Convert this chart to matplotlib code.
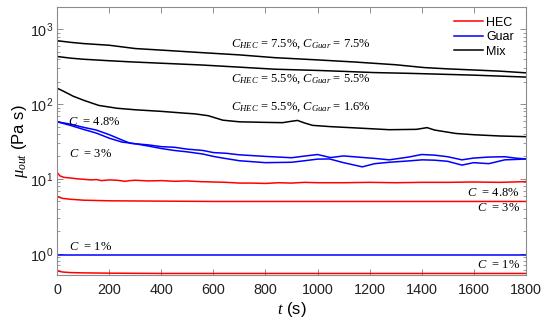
import math
import matplotlib
matplotlib.use("Agg")
import matplotlib.pyplot as plt
from matplotlib.ticker import LogLocator, FuncFormatter, NullFormatter

plt.rcParams['font.family'] = ['Liberation Sans', 'DejaVu Sans']
plt.rcParams['mathtext.fontset'] = 'custom'
plt.rcParams['mathtext.rm'] = 'Liberation Serif'
plt.rcParams['mathtext.it'] = 'Liberation Serif:italic'
plt.rcParams['mathtext.bf'] = 'Liberation Serif:bold'

# ---------------- data ----------------
t_mix75 = [0, 50, 100, 200, 300, 400, 550, 700, 835, 1000, 1140, 1300, 1410, 1500, 1600, 1700, 1800]
mix75 = [704, 670, 645, 612, 553, 527, 489, 455, 418, 390, 366, 336, 308, 296, 286, 276, 262]

t_mix55 = [0, 50, 100, 200, 290, 400, 550, 700, 835, 1000, 1100, 1218, 1350, 1474, 1600, 1700, 1800]
mix55 = [433, 412, 398, 380, 366, 352, 334, 312, 293, 282, 274, 264, 258, 251, 244, 237, 230]

t_mix16 = [0, 30, 60, 100, 130, 160, 230, 300, 400, 483, 530, 580, 636, 700, 800, 866, 900, 923,
           950, 981, 1050, 1150, 1276, 1380, 1421, 1450, 1532, 1600, 1700, 1800]
mix16 = [163, 145, 128, 113, 104, 96, 88, 84, 80, 76, 74, 70, 61, 58, 57, 56.5, 59, 60.5,
         56, 52, 50, 48, 45.5, 46, 48.5, 45, 40.5, 39, 37.5, 36.7]

t_guar_a = [0, 50, 100, 150, 200, 250, 280, 300, 350, 400, 450, 500, 560, 600, 650, 700, 750, 800,
            850, 900, 950, 1000, 1050, 1100, 1170, 1220, 1276, 1350, 1400, 1450, 1500, 1555, 1600,
            1658, 1720, 1760, 1800]
guar_a = [58, 54, 49, 45, 39, 33, 30, 29.5, 28.5, 27, 26.5, 25, 24, 22.5, 22, 21, 20.5, 20,
          19.6, 19.2, 20.2, 21.2, 19.3, 20.3, 19.4, 18.8, 18.0, 19.6, 21.2, 20.8, 19.8, 18.0, 19.0,
          19.6, 19.8, 19.0, 18.5]

t_guar_b = [0, 50, 100, 150, 200, 250, 270, 300, 350, 400, 450, 500, 560, 600, 636, 700, 750, 800,
            850, 900, 950, 1000, 1046, 1100, 1172, 1220, 1276, 1350, 1402, 1450, 1500, 1555, 1600,
            1658, 1720, 1760, 1800]
guar_b = [58, 52, 46, 41, 35, 31, 30.5, 29.5, 27.5, 25.5, 24, 23, 21.5, 20, 19, 17.5, 17, 16.5,
          16.6, 16.7, 17.5, 18.4, 18.5, 16.5, 14.5, 16, 16.7, 17.4, 18, 17.8, 17.2, 15.3, 16.5,
          16, 18, 18.2, 18.5]

t_hec48 = [0, 10, 25, 50, 80, 100, 130, 150, 170, 200, 230, 260, 280, 300, 350, 400, 450, 500, 550,
           600, 650, 700, 750, 800, 850, 900, 950, 1000, 1100, 1200, 1300, 1400, 1500, 1600, 1700, 1800]
hec48 = [12.1, 11.0, 10.5, 10.3, 10.0, 9.9, 9.7, 9.8, 9.5, 9.7, 9.6, 9.3, 9.5, 9.6, 9.4, 9.5, 9.3,
         9.4, 9.2, 9.1, 9.0, 8.8, 8.8, 8.7, 8.9, 8.8, 9.0, 8.9, 8.9, 9.0, 8.9, 9.0, 9.0, 9.1, 9.0, 9.2]

t_hec3 = [0, 20, 50, 100, 200, 400, 600, 800, 1000, 1200, 1400, 1600, 1800]
hec3 = [5.8, 5.5, 5.35, 5.2, 5.1, 5.05, 5.0, 5.0, 5.0, 5.0, 5.0, 5.0, 5.0]

t_guar1 = [0, 600, 1200, 1800]
guar1 = [0.96, 0.96, 0.96, 0.96]

t_hec1 = [0, 20, 50, 100, 200, 400, 800, 1200, 1800]
hec1 = [0.59, 0.57, 0.56, 0.555, 0.55, 0.545, 0.545, 0.545, 0.545]

legend_labels = ["HEC", "Guar", "Mix"]
x_ticks = [0, 200, 400, 600, 800, 1000, 1200, 1400, 1600, 1800]

# ---------------- figure ----------------
RED, BLUE, BLACK = '#ff0000', '#0000ff', '#000000'
fig = plt.figure(figsize=(5.5, 3.22), dpi=100)
ax = fig.add_axes([0.1042, 0.146, 0.8516, 0.8314])

lw = 1.1
ax.plot(t_hec48, hec48, color=RED, lw=lw, label=legend_labels[0])
ax.plot(t_guar_a, guar_a, color=BLUE, lw=lw, label=legend_labels[1])
ax.plot(t_mix75, mix75, color=BLACK, lw=lw, label=legend_labels[2])
ax.plot(t_mix55, mix55, color=BLACK, lw=lw)
ax.plot(t_mix16, mix16, color=BLACK, lw=lw)
ax.plot(t_guar_b, guar_b, color=BLUE, lw=lw)
ax.plot(t_hec3, hec3, color=RED, lw=lw)
ax.plot(t_guar1, guar1, color=BLUE, lw=lw)
ax.plot(t_hec1, hec1, color=RED, lw=lw)

ax.set_yscale('log')
ax.set_xlim(0, 1800)
ax.set_ylim(0.52, 1970)
ax.set_xticks(x_ticks)
ax.yaxis.set_major_locator(LogLocator(base=10, numticks=10))
ax.yaxis.set_minor_locator(LogLocator(base=10, subs=range(2, 10), numticks=20))
ax.yaxis.set_major_formatter(FuncFormatter(lambda v, p: r'$\mathregular{10^{%d}}$' % round(math.log10(v))))
ax.yaxis.set_minor_formatter(NullFormatter())

spine_c = '0.55'
for s in ax.spines.values():
    s.set_color(spine_c)
    s.set_linewidth(0.8)
ax.tick_params(which='both', direction='in', top=True, right=True, color=spine_c,
               labelsize=10.4, labelcolor='#222222')
ax.tick_params(which='major', length=4, width=0.7)
ax.tick_params(which='minor', length=2, width=0.6)
ax.tick_params(axis='x', pad=6)
ax.tick_params(axis='y', pad=3)

ax.set_xlabel(r'$t$ (s)', fontsize=12, labelpad=2)
ax.set_ylabel(r'$\mu_{out}$ (Pa s)', fontsize=12, labelpad=0)

# annotations
afs = 9.0
sf = ['Liberation Serif', 'DejaVu Serif']
ax.text(667, 585, r'$C_{HEC}$ = 7.5%, $C_{Guar}$ = 7.5%', fontsize=afs, family=sf, va='baseline')
ax.text(667, 199, r'$C_{HEC}$ = 5.5%, $C_{Guar}$ = 5.5%', fontsize=afs, family=sf, va='baseline')
ax.text(667, 83, r'$C_{HEC}$ = 5.5%, $C_{Guar}$ = 1.6%', fontsize=afs, family=sf, va='baseline')
ax.text(42, 52.6, r'$C$  = 4.8%', fontsize=afs, family=sf, va='baseline')
ax.text(45, 19.8, r'$C$  = 3%', fontsize=afs, family=sf, va='baseline')
ax.text(45, 1.11, r'$C$  = 1%', fontsize=afs, family=sf, va='baseline')
ax.text(1777, 5.9, r'$C$  = 4.8%', fontsize=afs, family=sf, va='baseline', ha='right')
ax.text(1777, 3.72, r'$C$  = 3%', fontsize=afs, family=sf, va='baseline', ha='right')
ax.text(1777, 0.65, r'$C$  = 1%', fontsize=afs, family=sf, va='baseline', ha='right')

ax.legend(loc='upper right', bbox_to_anchor=(0.975, 0.965), frameon=False, fontsize=9,
          handlelength=2.35, handletextpad=0.25, labelspacing=0.2, borderpad=0, borderaxespad=0)

fig.savefig('out.png', dpi=100)
